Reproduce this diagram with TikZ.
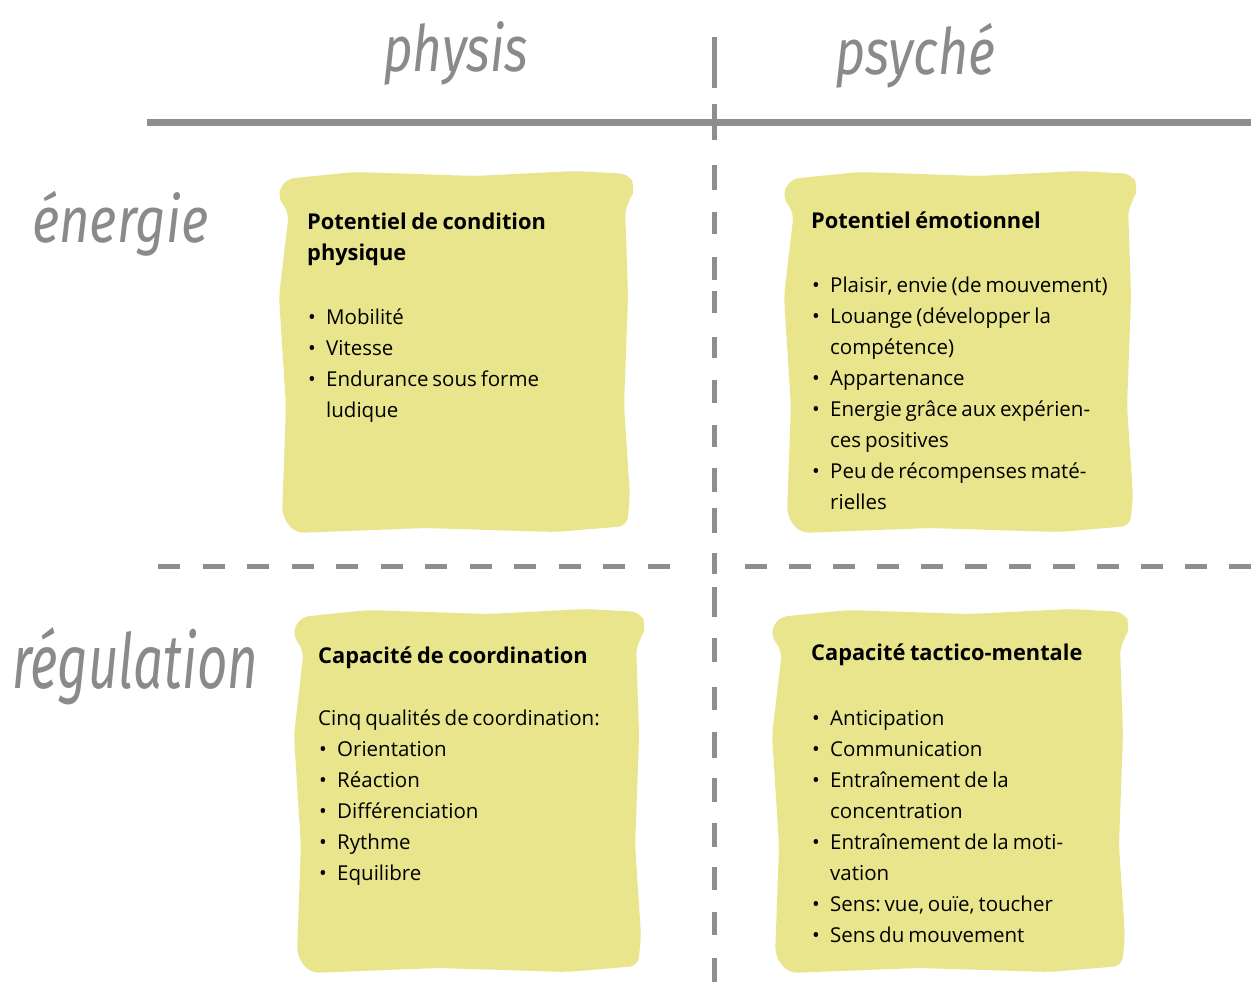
\documentclass[tikz,border=0pt]{standalone}
\usepackage{fontspec}
\setmainfont{Open Sans}
\newfontfamily\handfont{Fira Sans}
\usepackage{graphicx}
\definecolor{boxyellow}{RGB}{232,229,140}
\definecolor{linegrey}{RGB}{142,142,142}
\definecolor{handgrey}{RGB}{138,138,138}
\newcommand\bul{\makebox[19pt][l]{\hspace{1pt}•}}
\newcommand\ind{\hspace*{19pt}}
\newcommand\fst{\frenchspacing\spaceskip=0.19em\relax\rule{0pt}{24pt}}
\newcommand\ttl[1]{{\fontsize{21.8}{31}\selectfont\bfseries\spaceskip=0.21em\relax #1}}
\newcommand\brushbox[4]{%
  \fill[boxyellow, rounded corners=9pt, shift={(#1,#2)}, xscale=#3/360, yscale=#4/367]
  (10,12) -- (80,5) -- (200,9) -- (300,4) -- (354,7) -- (360,20) -- (356,32) -- (350,40)
  -- (353,130) -- (349,240) -- (355,330) -- (352,360) -- (280,366) -- (150,362) -- (20,367)
  -- (7,350) -- (11,240) -- (4,130) -- (14,45) -- (2,30) -- cycle;}
\begin{document}
\begin{tikzpicture}[x=1pt,y=-1pt,
  hand/.style={inner sep=0pt, text=handgrey, font=\handfont\itshape\fontsize{64}{64}\selectfont},
  body/.style={inner sep=0pt, anchor=north west, text width=400pt, align=left,
    font=\fontsize{20.5}{31}\selectfont},
  solidline/.style={linegrey, line width=7pt},
  dashline/.style={linegrey, line width=5pt}]
\useasboundingbox[fill=white] (0,0) rectangle (1251,982);

% boxes
\brushbox{275}{167}{360}{366}
\brushbox{780}{167}{358}{366}
\brushbox{290}{605}{356}{368}
\brushbox{768}{605}{362}{368}

% lines
\coordinate (hL) at (147,122);
\coordinate (hR) at (1251,122);
\draw[solidline] (hL) -- (hR);
\foreach \a/\b in {37/88,104/140,165/190,212/234,257/280,291/313,337/358,380/403,425/447,468/492,508/533,553/574,587/617,638/662,687/710,732/758,778/802,823/847,867/890,912/935,958/982}
  \draw[dashline] (714,\a) -- (714,\b);
\coordinate (dL1) at (158,566);
\coordinate (dR1) at (690,566);
\coordinate (dL2) at (745,566);
\coordinate (dR2) at (1251,566);
\draw[dashline, dash pattern=on 22pt off 22.5pt] (dL1) -- (dR1);
\draw[dashline, dash pattern=on 22pt off 22pt] (dL2) -- (dR2);

% headings
\node[hand, anchor=base west] (physis) at (383,72) {\resizebox{145pt}{\height}{physis}};
\node[hand, anchor=base west] (psyche) at (835,75) {\resizebox{160pt}{\height}{psyché}};
\node[hand, anchor=base west] (energie) at (32,242) {\resizebox{176pt}{\height}{énergie}};
\node[hand, anchor=base west, font=\handfont\itshape\fontsize{76}{76}\selectfont] (regulation) at (12,688) {\resizebox{246pt}{\height}{régulation}};

% texts
\node[body] (t1) at (307,205) {\fst\ttl{Potentiel de condition}\\
\ttl{physique}\\[33pt]
\bul Mobilité\\
\bul Vitesse\\
\bul Endurance sous forme\\
\ind ludique};

\node[body] (t2) at (811,204) {\fst\ttl{Potentiel émotionnel}\\[33pt]
\bul Plaisir, envie (de mouvement)\\
\bul Louange (développer la\\
\ind compétence)\\
\bul Appartenance\\
\bul Energie grâce aux expérien-\\
\ind ces positives\\
\bul Peu de récompenses maté-\\
\ind rielles};

\node[body] (t3) at (318,639) {\fst\ttl{Capacité de coordination}\\[31pt]
Cinq qualités de coordination:\\
\bul Orientation\\
\bul Réaction\\
\bul Différenciation\\
\bul Rythme\\
\bul Equilibre};

\node[body] (t4) at (811,636) {\fst\ttl{Capacité tactico-mentale}\\[34pt]
\bul Anticipation\\
\bul Communication\\
\bul Entraînement de la\\
\ind concentration\\
\bul Entraînement de la moti-\\
\ind vation\\
\bul Sens: vue, ouïe, toucher\\
\bul Sens du mouvement};
\end{tikzpicture}
\end{document}
